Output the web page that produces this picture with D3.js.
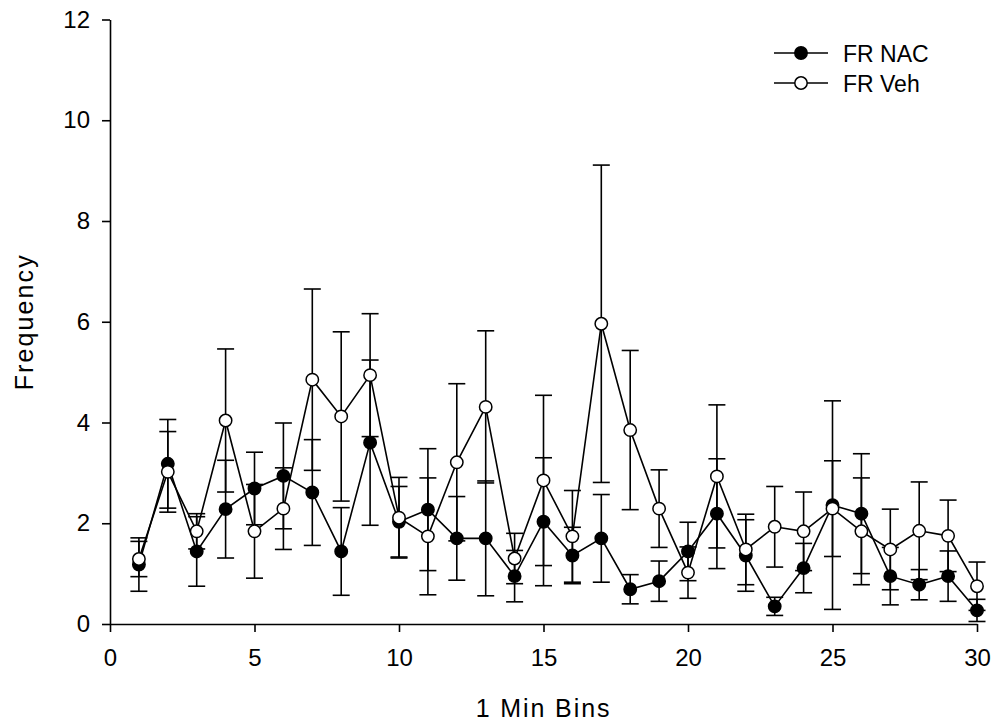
<!DOCTYPE html>
<html>
<head>
<meta charset="utf-8">
<script src="https://cdn.jsdelivr.net/npm/d3@7/dist/d3.min.js"></script>
<style>
  html, body { margin: 0; padding: 0; background: #fff; }
  svg { display: block; }
  text { font-family: Arial, "Liberation Sans", sans-serif; fill: #000; }
</style>
</head>
<body>
<svg id="chart" width="995" height="728"></svg>
<script>
// 1-minute bins
const bins = [1, 2, 3, 4, 5, 6, 7, 8, 9, 10, 11, 12, 13, 14, 15,
              16, 17, 18, 19, 20, 21, 22, 23, 24, 25, 26, 27, 28, 29, 30];

// FR NAC: mean frequency and error per bin
const nacMean = [1.18, 3.18, 1.44, 2.28, 2.69, 2.94, 2.61, 1.44, 3.60, 2.03,
                 2.27, 1.70, 1.70, 0.95, 2.03, 1.36, 1.70, 0.69, 0.85, 1.44,
                 2.19, 1.36, 0.35, 1.11, 2.36, 2.19, 0.95, 0.78, 0.95, 0.27];
const nacErr  = [0.53, 0.88, 0.69, 0.97, 0.72, 1.05, 1.05, 0.87, 1.64, 0.70,
                 1.21, 0.83, 1.14, 0.51, 1.27, 0.56, 0.87, 0.29, 0.40, 0.58,
                 1.09, 0.71, 0.18, 0.49, 2.07, 1.19, 0.57, 0.30, 0.50, 0.22];

// FR Veh: mean frequency and error per bin
const vehMean = [1.29, 3.02, 1.84, 4.04, 1.84, 2.29, 4.85, 4.12, 4.94, 2.11,
                 1.74, 3.21, 4.31, 1.30, 2.85, 1.74, 5.96, 3.85, 2.29, 1.02,
                 2.93, 1.48, 1.93, 1.84, 2.29, 1.84, 1.48, 1.85, 1.75, 0.75];
const vehErr  = [0.35, 0.80, 0.35, 1.42, 0.93, 0.81, 1.80, 1.68, 1.22, 0.80,
                 1.16, 1.56, 1.51, 0.50, 1.69, 0.91, 3.15, 1.58, 0.77, 0.51,
                 1.42, 0.70, 0.80, 0.78, 0.95, 1.06, 0.80, 0.97, 0.71, 0.48];

const xTicks = [0, 5, 10, 15, 20, 25, 30];
const yTicks = [0, 2, 4, 6, 8, 10, 12];
const seriesNames = ["FR NAC", "FR Veh"];

const svg = d3.select("#chart");

const x = d3.scaleLinear().domain([0, 30]).range([110, 977]);
const y = d3.scaleLinear().domain([0, 12]).range([624, 19.5]);

// Axes
const xAxis = svg.append("g")
  .attr("transform", `translate(0,${y(0)})`)
  .call(d3.axisBottom(x).tickValues(xTicks).tickSize(8).tickPadding(17).tickSizeOuter(0));
const yAxis = svg.append("g")
  .attr("transform", `translate(${x(0)},0)`)
  .call(d3.axisLeft(y).tickValues(yTicks).tickSize(8).tickPadding(12).tickSizeOuter(0));

[xAxis, yAxis].forEach(g => {
  g.select(".domain").attr("stroke", "#000").attr("stroke-width", 1.6);
  g.selectAll(".tick line").attr("stroke", "#000").attr("stroke-width", 1.6);
  g.selectAll(".tick text")
    .style("font-family", "Arial, 'Liberation Sans', sans-serif")
    .style("font-size", "24px").attr("fill", "#000");
});

// Axis titles
svg.append("text")
  .attr("x", (x(0) + x(30)) / 2)
  .attr("y", 717)
  .attr("text-anchor", "middle")
  .style("font-size", "25px")
  .style("letter-spacing", "1.9px")
  .text("1 Min Bins");

svg.append("text")
  .attr("transform", `translate(33,${(y(0) + y(12)) / 2}) rotate(-90)`)
  .attr("text-anchor", "middle")
  .style("font-size", "25px")
  .style("letter-spacing", "2.1px")
  .text("Frequency");

const capHalf = 8.5;
const r = 6.2;

function drawSeries(means, errs, fill) {
  const pts = bins.map((b, i) => ({ b, m: means[i], e: errs[i] }));
  const g = svg.append("g");

  // connecting line
  g.append("path")
    .datum(pts)
    .attr("fill", "none")
    .attr("stroke", "#000")
    .attr("stroke-width", 1.6)
    .attr("d", d3.line().x(d => x(d.b)).y(d => y(d.m)));

  // error bars
  const eb = g.selectAll(".eb").data(pts).join("g").attr("class", "eb")
    .attr("stroke", "#000").attr("stroke-width", 1.6);
  eb.append("line")
    .attr("x1", d => x(d.b)).attr("x2", d => x(d.b))
    .attr("y1", d => y(d.m + d.e)).attr("y2", d => y(Math.max(0, d.m - d.e)));
  eb.append("line")
    .attr("x1", d => x(d.b) - capHalf).attr("x2", d => x(d.b) + capHalf)
    .attr("y1", d => y(d.m + d.e)).attr("y2", d => y(d.m + d.e));
  eb.append("line")
    .attr("x1", d => x(d.b) - capHalf).attr("x2", d => x(d.b) + capHalf)
    .attr("y1", d => y(Math.max(0, d.m - d.e))).attr("y2", d => y(Math.max(0, d.m - d.e)));

  // symbols
  g.selectAll("circle").data(pts).join("circle")
    .attr("cx", d => x(d.b)).attr("cy", d => y(d.m)).attr("r", r)
    .attr("fill", fill).attr("stroke", "#000").attr("stroke-width", 1.5);
}

drawSeries(nacMean, nacErr, "#000");
drawSeries(vehMean, vehErr, "#fff");

// Legend
const legend = svg.append("g");
const legendRows = [
  { name: seriesNames[0], fill: "#000", cy: 53 },
  { name: seriesNames[1], fill: "#fff", cy: 83 }
];
legendRows.forEach(row => {
  legend.append("line")
    .attr("x1", 774).attr("x2", 828).attr("y1", row.cy).attr("y2", row.cy)
    .attr("stroke", "#000").attr("stroke-width", 1.6);
  legend.append("circle")
    .attr("cx", 801).attr("cy", row.cy).attr("r", r)
    .attr("fill", row.fill).attr("stroke", "#000").attr("stroke-width", 1.5);
  legend.append("text")
    .attr("x", 843).attr("y", row.cy + 8.5)
    .style("font-size", "23px")
    .text(row.name);
});
</script>
</body>
</html>
